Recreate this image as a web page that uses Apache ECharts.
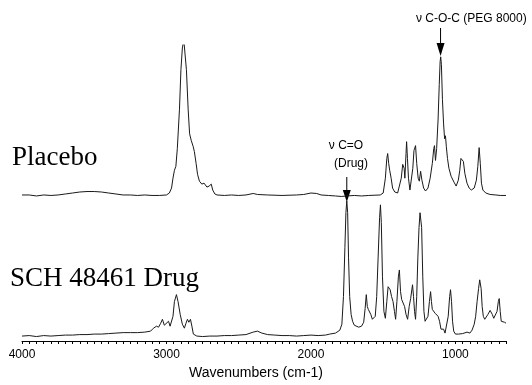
<!DOCTYPE html>
<html>
<head>
<meta charset="utf-8">
<script src="https://cdn.jsdelivr.net/npm/echarts@6/dist/echarts.min.js"></script>
<style>html,body{margin:0;padding:0;background:#fff}#c{width:532px;height:385px}</style>
</head>
<body>
<div id="c"></div>
<script>
// x tick labels (wavenumbers, cm-1)
var tickLabels = [4000, 3000, 2000, 1000];
// series names
var seriesNames = ['Placebo', 'SCH 48461 Drug'];
// Placebo spectrum: [wavenumber, relative absorbance]
var placebo = [
[4000,3],[3950,3],[3900,2],[3850,3],[3800,2.5],[3750,3],[3700,4],[3650,5],[3600,6],[3550,6.5],[3500,6.5],[3450,6],[3400,5],[3350,4],[3300,3],[3250,3],[3200,2.5],[3150,3],[3100,2.5],[3050,2.5],[3000,3],
[2980,5],[2965,10],[2955,20],[2945,28],[2935,32],[2925,50],[2910,90],[2900,130],[2890,152],[2880,160],[2872,158],[2862,130],[2850,90],[2840,65],[2828,58],[2815,52],[2807,47],[2795,35],[2785,24],[2772,17],[2755,14],[2740,15],[2731,16],[2720,11],[2705,12],[2690,14],[2680,8],[2665,4],[2650,3],
[2600,2.5],[2550,3],[2500,2.5],[2450,3],[2400,4.5],[2370,3.5],[2300,3],[2200,2.5],[2100,3],[2050,3.5],[2000,5],[1960,4.5],[1930,3],[1880,2.5],[1830,2],[1790,1.5],[1750,2],[1700,2.5],[1650,2],[1600,2.5],[1520,3],
[1500,5],[1485,20],[1475,40],[1469,45],[1462,35],[1455,28],[1445,20],[1435,10],[1420,6],[1410,8],[1400,5],[1390,7],[1375,20],[1365,34],[1355,30],[1350,20],[1342,45],[1338,57],[1332,40],[1325,20],[1315,8],[1305,10],[1295,30],[1287,48],[1283,50],[1276,53],[1268,35],[1258,20],[1250,17],[1241,27],[1232,18],[1220,10],[1207,7],
[1190,10],[1175,20],[1160,35],[1150,50],[1145,53],[1138,38],[1130,50],[1120,80],[1112,115],[1106,138],[1102,143],[1097,135],[1090,100],[1082,75],[1075,60],[1069,63],[1063,52],[1055,40],[1045,30],[1030,22],[1010,16],[995,12],
[980,18],[970,28],[962,40],[955,39],[945,37],[935,25],[920,15],[905,10],[890,8],[870,10],[855,18],[845,32],[836,51],[828,35],[820,15],[810,8],[790,5],[760,3.5],[720,3],[690,2.5],[650,2.5]
];
// SCH 48461 drug spectrum: [wavenumber, relative absorbance]
var drug = [
[4000,5],[3950,5.5],[3900,4.5],[3850,5.5],[3800,5],[3750,5.5],[3700,6],[3650,6],[3600,6.5],[3550,6.5],[3500,7],[3450,7],[3400,7.5],[3350,8],[3300,8.5],[3250,8.5],[3200,8.5],[3150,9],
[3110,10],[3090,13],[3069,15],[3055,14],[3040,18],[3028,22],[3015,16],[3005,18],[2986,20],[2975,15],[2966,13],[2955,25],[2945,40],[2931,47],[2920,40],[2905,27],[2890,17],[2876,13],[2865,18],[2855,22],[2845,19],[2834,22],[2824,15],[2814,7],
[2790,5],[2750,4.5],[2700,5],[2650,5],[2600,5.5],[2550,5.5],[2500,6],[2450,6.5],[2400,9],[2370,10],[2340,8],[2300,6.5],[2250,6],[2200,5.5],[2150,5.5],[2100,5],[2050,5.5],[2000,6],[1950,5.5],[1900,6],[1870,7],[1830,8],
[1800,11],[1786,17],[1775,45],[1765,95],[1758,130],[1752,142],[1746,130],[1740,85],[1732,45],[1722,27],[1712,20],[1700,16],[1690,15],[1670,14],[1650,15],
[1635,19],[1625,33],[1617,47],[1610,35],[1603,32],[1592,30],[1586,27],[1575,22],[1566,22],[1555,25],[1545,45],[1535,85],[1525,125],[1519,138],[1513,120],[1505,65],[1495,30],[1485,23],
[1475,40],[1466,55],[1460,53],[1452,52],[1442,45],[1432,40],[1422,30],[1414,22],[1405,40],[1395,65],[1388,72],[1380,50],[1372,42],[1362,40],[1352,35],[1342,27],[1331,22],[1320,35],[1310,43],[1297,57],[1290,45],[1283,30],[1276,22],
[1268,45],[1260,85],[1252,115],[1245,130],[1240,132],[1234,115],[1226,65],[1218,30],[1210,20],[1200,18],[1190,25],[1180,40],[1172,50],[1166,40],[1160,32],[1150,31],[1140,28],[1130,27],[1120,25],[1110,20],[1100,12],[1092,10],[1082,12],[1072,8],[1062,10],
[1050,25],[1040,45],[1034,52],[1027,40],[1020,20],[1012,10],[1000,7],[980,7],[950,7.5],[920,9],[900,8],[885,11],[870,17],[860,25],[850,40],[840,53],[832,62],[828,64],[822,53],[815,35],[807,25],[797,22],[787,23],[775,27],[760,31],[752,32],[745,27],[735,23],[725,25],[712,30],[703,40],[697,43],[690,30],[683,20],[670,18],[660,19],[650,18]
];
var PLACEBO_OFFSET = 145;

var minorTicks = [];
for (var t = 4000; t >= 650; t -= 50) minorTicks.push(t);

var chart = echarts.init(document.getElementById('c'), null, {renderer: 'canvas'});
var lineStyle = {color: '#1a1a1a', width: 1};
chart.setOption({
  animation: false,
  backgroundColor: '#fff',
  grid: {left: 22, right: 26, top: 45, bottom: 40},
  xAxis: {
    type: 'value', inverse: true, min: 650, max: 4000,
    axisLine: {show: true, onZero: false, lineStyle: {color: '#000', width: 1}},
    axisTick: {show: true, inside: false, length: 3, customValues: minorTicks, lineStyle: {color: '#000', width: 1}},
    axisLabel: {customValues: tickLabels, margin: 8, color: '#000', fontSize: 12, fontFamily: 'Liberation Sans',
      formatter: function (v) { return String(v); }},
    splitLine: {show: false},
    name: 'Wavenumbers (cm-1)', nameLocation: 'middle', nameGap: 25,
    nameTextStyle: {color: '#000', fontSize: 14, fontFamily: 'Liberation Sans', padding: [0, 16, 0, 0]}
  },
  yAxis: {type: 'value', min: 0, max: 300, show: false},
  series: [
    {name: seriesNames[0], type: 'line', showSymbol: false, symbol: 'none', lineStyle: lineStyle,
     data: placebo.map(function (p) { return [p[0], p[1] + PLACEBO_OFFSET]; })},
    {name: seriesNames[1], type: 'line', showSymbol: false, symbol: 'none', lineStyle: lineStyle,
     data: drug}
  ]
});

var xPeg = chart.convertToPixel({xAxisIndex: 0}, 1103);
var xCO = chart.convertToPixel({xAxisIndex: 0}, 1752);
var sans = 'Liberation Sans';
chart.setOption({
  graphic: [
    {type: 'text', x: 12, y: 158, style: {text: seriesNames[0], font: '27px "Liberation Serif"', fill: '#000', verticalAlign: 'middle'}},
    {type: 'text', x: 10, y: 279, style: {text: seriesNames[1], font: '27px "Liberation Serif"', fill: '#000', verticalAlign: 'middle'}},
    {type: 'text', x: 416, y: 18.5, style: {text: 'ν C-O-C (PEG 8000)', font: '12px "' + sans + '"', fill: '#000', verticalAlign: 'middle'}},
    {type: 'line', shape: {x1: xPeg, y1: 28, x2: xPeg, y2: 44}, style: {stroke: '#000', lineWidth: 1}},
    {type: 'polygon', shape: {points: [[xPeg - 4, 43], [xPeg + 4, 43], [xPeg, 56]]}, style: {fill: '#000'}},
    {type: 'text', x: 346, y: 146, style: {text: 'ν C=O', font: '12px "' + sans + '"', fill: '#000', align: 'center', verticalAlign: 'middle'}},
    {type: 'text', x: 351, y: 164, style: {text: '(Drug)', font: '12px "' + sans + '"', fill: '#000', align: 'center', verticalAlign: 'middle'}},
    {type: 'line', shape: {x1: xCO, y1: 177, x2: xCO, y2: 191}, style: {stroke: '#000', lineWidth: 1}},
    {type: 'polygon', shape: {points: [[xCO - 4, 190], [xCO + 4, 190], [xCO, 202]]}, style: {fill: '#000'}}
  ]
});
</script>
</body>
</html>
